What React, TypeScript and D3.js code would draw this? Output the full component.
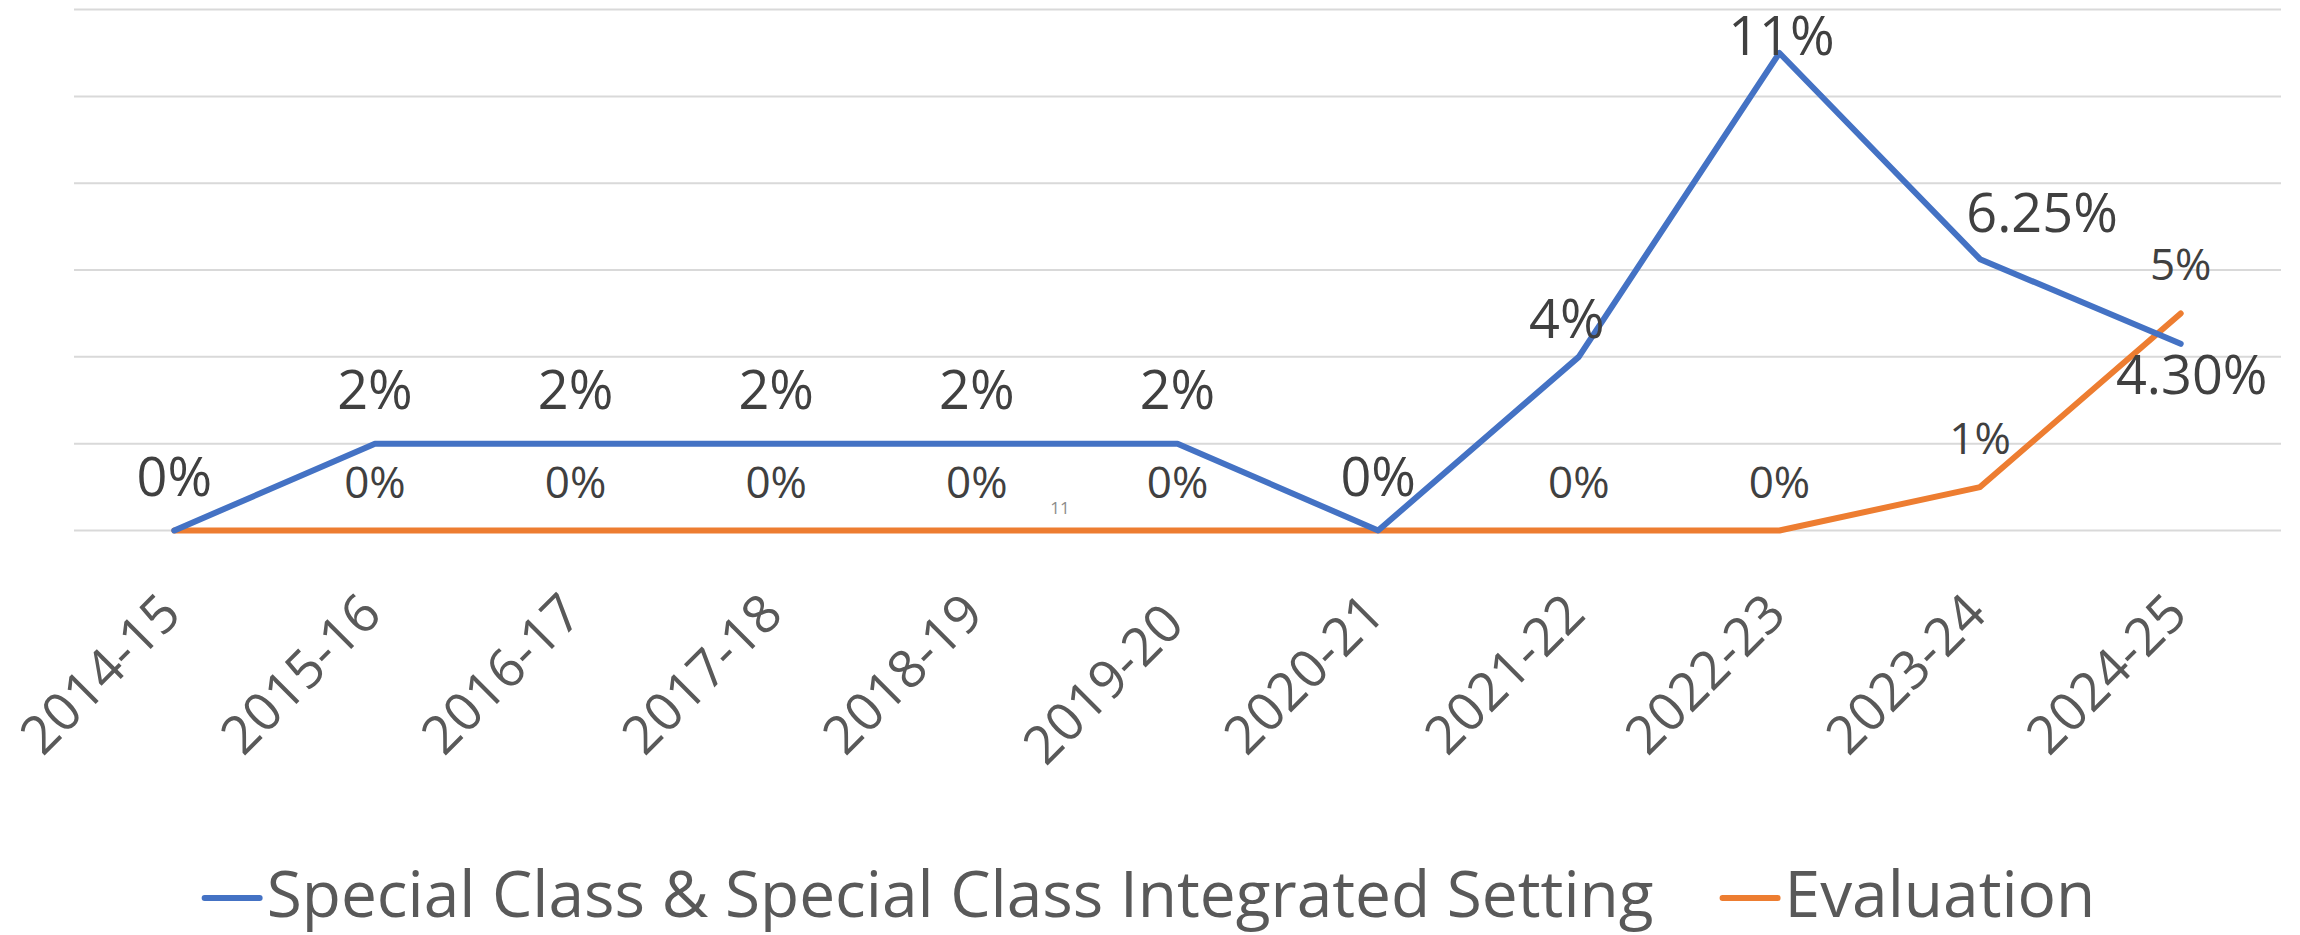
import React, { useLayoutEffect, useRef, useState } from "react";
import * as d3 from "d3";

// ---- Data ----
const categories = [
  "2014-15", "2015-16", "2016-17", "2017-18", "2018-19", "2019-20",
  "2020-21", "2021-22", "2022-23", "2023-24", "2024-25",
];
const specialClass = [0, 0.02, 0.02, 0.02, 0.02, 0.02, 0, 0.04, 0.11, 0.0625, 0.043];
const evaluation = [0, 0, 0, 0, 0, 0, 0, 0, 0, 0.01, 0.05];
const specialClassLabels = ["0%", "2%", "2%", "2%", "2%", "2%", "0%", "4%", "11%", "6.25%", "4.30%"];
const evaluationLabels = ["0%", "0%", "0%", "0%", "0%", "0%", "0%", "0%", "0%", "1%", "5%"];
const evaluationLabelVisible = [false, true, true, true, true, true, false, true, true, true, true];
const seriesNames = ["Special Class & Special Class Integrated Setting", "Evaluation"];
const yTickValues = [0, 0.02, 0.04, 0.06, 0.08, 0.1, 0.12];
const pageMarkText = "11";

// ---- Styles / layout ----
const W = 2300;
const H = 935;
const FONT = "'Open Sans', 'Noto Sans', sans-serif";
const BLUE = "#4472C4";
const ORANGE = "#ED7D31";
const plot = { left: 74, right: 2281, top: 9.6, bottom: 530.5 };
// label offsets (dx, dy of baseline relative to point)
const blueLabelOffsets: [number, number][] = [
  [0, -35], [0, -35], [0, -35], [0, -35], [0, -35], [0, -35],
  [0, -35], [-12, -19], [2, 2], [62, -27], [11, 50],
];
const axisLabelExtraDy = [0, 0, 0, 0, 0, 10, 0, 0, 0, 0, 0];

export default function App() {
  const x = d3.scalePoint<string>().domain(categories).range([plot.left, plot.right]).padding(0.5);
  const y = d3.scaleLinear().domain([0, 0.12]).range([plot.bottom, plot.top]);

  const line = d3
    .line<number>()
    .x((_, i) => x(categories[i]) as number)
    .y((d) => y(d));

  const t1 = useRef<SVGTextElement>(null);
  const t2 = useRef<SVGTextElement>(null);
  const [w1, setW1] = useState(1410);
  const [w2, setW2] = useState(313);
  useLayoutEffect(() => {
    if (t1.current) setW1(t1.current.getComputedTextLength());
    if (t2.current) setW2(t2.current.getComputedTextLength());
  }, []);

  const lineLen = 55;
  const gapAfterLine = 7;
  const itemGap = 69;
  const legendTotal = lineLen + gapAfterLine + w1 + itemGap + lineLen + gapAfterLine + w2;
  const legendStart = W / 2 - legendTotal / 2;
  const item2Start = legendStart + lineLen + gapAfterLine + w1 + itemGap;
  const legendLineY = 898;
  const legendBaseline = 917;

  return (
    <div style={{ position: "absolute", left: 0, top: 0 }}>
      <svg width={W} height={H} viewBox={`0 0 ${W} ${H}`} style={{ display: "block", background: "#fff" }}>
        {/* gridlines */}
        <g>
          {yTickValues.map((t) => (
            <line
              key={t}
              x1={plot.left}
              x2={plot.right}
              y1={y(t)}
              y2={y(t)}
              stroke="#D9D9D9"
              strokeWidth={2}
            />
          ))}
        </g>

        {/* page mark */}
        <text x={1060} y={514} textAnchor="middle" fontFamily={FONT} fontSize={17} fill="#8C8C8C">
          {pageMarkText}
        </text>

        {/* series lines */}
        <path d={line(evaluation) || ""} fill="none" stroke={ORANGE} strokeWidth={6} strokeLinecap="round" strokeLinejoin="round" />
        <path d={line(specialClass) || ""} fill="none" stroke={BLUE} strokeWidth={6} strokeLinecap="round" strokeLinejoin="round" />

        {/* data labels: Evaluation */}
        <g fontFamily={FONT} fontSize={44} fill="#404040" textAnchor="middle">
          {evaluation.map((v, i) =>
            evaluationLabelVisible[i] ? (
              <text key={i} x={x(categories[i]) as number} y={y(v) - 33}>
                {evaluationLabels[i]}
              </text>
            ) : null
          )}
        </g>

        {/* data labels: Special Class */}
        <g fontFamily={FONT} fontSize={54} fill="#404040" textAnchor="middle">
          {specialClass.map((v, i) => (
            <text
              key={i}
              x={(x(categories[i]) as number) + blueLabelOffsets[i][0]}
              y={y(v) + blueLabelOffsets[i][1]}
            >
              {specialClassLabels[i]}
            </text>
          ))}
        </g>

        {/* x axis labels */}
        <g fontFamily={FONT} fontSize={53} fill="#595959" textAnchor="end">
          {categories.map((c, i) => {
            const px = (x(c) as number) + 9;
            const py = plot.bottom + 86 + axisLabelExtraDy[i];
            return (
              <text key={c} transform={`translate(${px},${py}) rotate(-45)`}>
                {c}
              </text>
            );
          })}
        </g>

        {/* legend */}
        <g fontFamily={FONT} fontSize={64} fill="#595959">
          <line x1={legendStart} x2={legendStart + lineLen} y1={legendLineY} y2={legendLineY} stroke={BLUE} strokeWidth={6} strokeLinecap="round" />
          <text ref={t1} x={legendStart + lineLen + gapAfterLine} y={legendBaseline}>
            {seriesNames[0]}
          </text>
          <line x1={item2Start} x2={item2Start + lineLen} y1={legendLineY} y2={legendLineY} stroke={ORANGE} strokeWidth={6} strokeLinecap="round" />
          <text ref={t2} x={item2Start + lineLen + gapAfterLine} y={legendBaseline}>
            {seriesNames[1]}
          </text>
        </g>
      </svg>
    </div>
  );
}
